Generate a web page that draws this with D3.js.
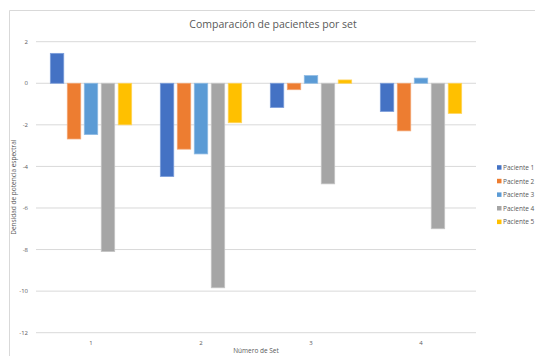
<!DOCTYPE html>
<html>
<head>
<meta charset="utf-8">
<script src="https://cdn.jsdelivr.net/npm/d3@7"></script>
<style>
  body { margin: 0; background: #fff; overflow: hidden; }
  text { font-family: "Open Sans", "Liberation Sans", sans-serif; fill: #595959; }
</style>
</head>
<body>
<svg id="chart" width="535" height="356"></svg>
<script>
//* Data
const sets = ["1", "2", "3", "4"];
const patients = ["Paciente 1", "Paciente 2", "Paciente 3", "Paciente 4", "Paciente 5"];
const paciente1 = [1.44, -4.49, -1.17, -1.36];
const paciente2 = [-2.68, -3.17, -0.31, -2.29];
const paciente3 = [-2.47, -3.40, 0.37, 0.25];
const paciente4 = [-8.10, -9.84, -4.84, -7.00];
const paciente5 = [-2.00, -1.90, 0.16, -1.45];
const yTicks = [2, 0, -2, -4, -6, -8, -10, -12];
const colors = ["#4472C4", "#ED7D31", "#5B9BD5", "#A5A5A5", "#FFC000"];
const strokes = ["#7d9fdc", "#f3a775", "#8fbbe4", "#c6c6c6", "#ffd45c"];

const seriesValues = [paciente1, paciente2, paciente3, paciente4, paciente5];
const data = sets.map((s, i) => ({
  set: s,
  values: patients.map((p, j) => ({ patient: p, value: seriesValues[j][i], idx: j }))
}));

//* Chart area
const margin = { top: 41.7, left: 36, right: 59, bottom: 23.3 };
const innerWidth = 476 - margin.left;
const innerHeight = 332.7 - margin.top;

const svg = d3.select("#chart");

// chart frame (runs off the right and bottom edges, as in the reference)
svg.append("path")
  .attr("d", "M9.5,356 V10.5 H535")
  .attr("fill", "none")
  .attr("stroke", "#d9d9d9");

const g = svg.append("g")
  .attr("transform", `translate(${margin.left}, ${margin.top})`);

const x0 = d3.scaleBand()
  .domain(sets)
  .range([0, innerWidth])
  .paddingInner(0.26)
  .paddingOuter(0.13);

const x1 = d3.scaleBand()
  .domain(patients)
  .range([0, x0.bandwidth()])
  .paddingInner(0.206);

const y = d3.scaleLinear()
  .domain([-12, 2])
  .range([innerHeight, 0]);

// gridlines
g.selectAll(".grid")
  .data(yTicks)
  .enter()
  .append("line")
  .attr("class", "grid")
  .attr("x1", 0).attr("x2", innerWidth)
  .attr("y1", d => y(d)).attr("y2", d => y(d))
  .attr("stroke", "#d9d9d9")
  .attr("stroke-width", 1);

// y labels
g.selectAll(".ylabel")
  .data(yTicks)
  .enter()
  .append("text")
  .attr("class", "ylabel")
  .attr("x", -8)
  .attr("y", d => y(d))
  .attr("dy", "0.35em")
  .attr("text-anchor", "end")
  .attr("font-size", "6px")
  .text(d => d);

// bars
const groups = g.selectAll(".set")
  .data(data)
  .enter()
  .append("g")
  .attr("class", "set")
  .attr("transform", d => `translate(${x0(d.set)}, 0)`);

groups.selectAll("rect")
  .data(d => d.values)
  .enter()
  .append("rect")
  .attr("x", d => x1(d.patient))
  .attr("y", d => y(Math.max(0, d.value)))
  .attr("width", x1.bandwidth())
  .attr("height", d => Math.abs(y(d.value) - y(0)))
  .attr("fill", d => colors[d.idx])
  .attr("stroke", d => strokes[d.idx])
  .attr("stroke-width", 0.75);

// x labels (low position)
g.selectAll(".xlabel")
  .data(sets)
  .enter()
  .append("text")
  .attr("class", "xlabel")
  .attr("x", d => x0(d) + x0.bandwidth() / 2)
  .attr("y", innerHeight + 12)
  .attr("text-anchor", "middle")
  .attr("font-size", "6px")
  .text(d => d);

// titles
svg.append("text")
  .attr("x", 273)
  .attr("y", 28)
  .attr("text-anchor", "middle")
  .attr("font-size", "10.5px")
  .text("Comparación de pacientes por set");

svg.append("text")
  .attr("x", margin.left + innerWidth / 2)
  .attr("y", 353)
  .attr("text-anchor", "middle")
  .attr("font-size", "6.5px")
  .text("Número de Set");

svg.append("text")
  .attr("transform", `translate(16, ${margin.top + innerHeight / 2}) rotate(-90)`)
  .attr("text-anchor", "middle")
  .attr("font-size", "6.5px")
  .text("Densidad de potencia espectral");

// legend
const legend = svg.selectAll(".legend")
  .data(patients)
  .enter()
  .append("g")
  .attr("class", "legend")
  .attr("transform", (d, i) => `translate(497, ${167.7 + i * 13.6})`);

legend.append("rect")
  .attr("x", 0).attr("y", -2.5)
  .attr("width", 4.5).attr("height", 4.5)
  .attr("fill", (d, i) => colors[i]);

legend.append("text")
  .attr("x", 6)
  .attr("y", 0)
  .attr("dy", "0.35em")
  .attr("font-size", "6.5px")
  .text(d => d);
</script>
</body>
</html>
